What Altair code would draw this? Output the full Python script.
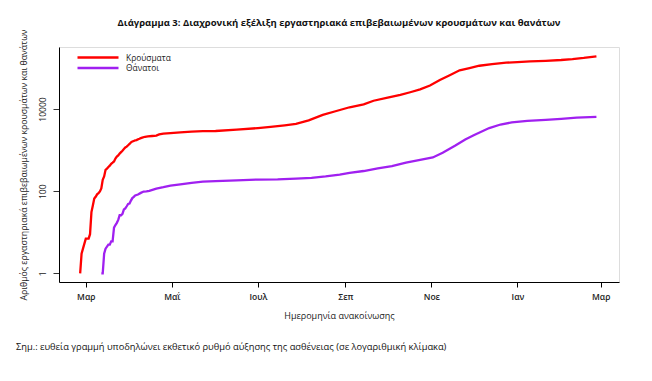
import json
import altair as alt
import pandas as pd

# ---------------- data ----------------
case_dates = [
    "2020-02-26", "2020-02-27", "2020-02-28", "2020-03-01", "2020-03-03", "2020-03-04",
    "2020-03-05", "2020-03-06", "2020-03-07", "2020-03-08", "2020-03-09", "2020-03-10",
    "2020-03-11", "2020-03-12", "2020-03-13", "2020-03-14", "2020-03-15", "2020-03-16",
    "2020-03-17", "2020-03-18", "2020-03-19", "2020-03-20", "2020-03-21", "2020-03-22",
    "2020-03-23", "2020-03-24", "2020-03-25", "2020-03-26", "2020-03-27", "2020-03-28",
    "2020-03-29", "2020-03-30", "2020-03-31", "2020-04-01", "2020-04-02", "2020-04-03",
    "2020-04-04", "2020-04-05", "2020-04-06", "2020-04-07", "2020-04-08", "2020-04-09",
    "2020-04-10", "2020-04-12", "2020-04-14", "2020-04-17", "2020-04-20", "2020-04-22",
    "2020-04-25", "2020-04-30", "2020-05-07", "2020-05-15", "2020-05-23", "2020-06-01",
    "2020-06-16", "2020-07-01", "2020-07-10", "2020-07-20", "2020-07-28", "2020-08-06",
    "2020-08-16", "2020-08-25", "2020-09-04", "2020-09-14", "2020-09-21", "2020-10-01",
    "2020-10-10", "2020-10-17", "2020-10-24", "2020-10-31", "2020-11-07", "2020-11-14",
    "2020-11-21", "2020-11-28", "2020-12-05", "2020-12-14", "2020-12-24", "2021-01-01",
    "2021-01-10", "2021-01-21", "2021-02-01", "2021-02-09", "2021-02-17", "2021-02-26",
]
case_values = [
    1, 3, 4, 7, 7, 9,
    31, 45, 66, 73, 84, 89,
    99, 117, 190, 228, 331, 352,
    387, 418, 464, 495, 530, 624,
    695, 743, 821, 892, 966, 1061,
    1156, 1212, 1314, 1415, 1544, 1613,
    1673, 1735, 1755, 1832, 1884, 1955,
    2011, 2114, 2170, 2207, 2245, 2401,
    2506, 2591, 2716, 2810, 2882, 2918,
    3148, 3432, 3672, 4007, 4350, 5300,
    7200, 8819, 11034, 13000, 15900, 18886,
    22078, 25600, 29992, 37196, 50712, 66637,
    87500, 99000, 113000, 123500, 134000, 139000,
    144000, 149000, 156000, 164000, 175000, 192000,
]

death_dates = [
    "2020-03-12", "2020-03-13", "2020-03-14", "2020-03-15", "2020-03-17", "2020-03-18",
    "2020-03-19", "2020-03-20", "2020-03-21", "2020-03-22", "2020-03-23", "2020-03-24",
    "2020-03-25", "2020-03-26", "2020-03-27", "2020-03-28", "2020-03-29", "2020-03-30",
    "2020-03-31", "2020-04-01", "2020-04-02", "2020-04-03", "2020-04-04", "2020-04-05",
    "2020-04-07", "2020-04-09", "2020-04-11", "2020-04-13", "2020-04-15", "2020-04-20",
    "2020-04-25", "2020-04-30", "2020-05-07", "2020-05-15", "2020-05-23", "2020-06-01",
    "2020-06-16", "2020-07-01", "2020-07-15", "2020-07-28", "2020-08-08", "2020-08-18",
    "2020-08-28", "2020-09-04", "2020-09-14", "2020-09-24", "2020-10-04", "2020-10-14",
    "2020-10-24", "2020-11-02", "2020-11-09", "2020-11-18", "2020-11-25", "2020-12-01",
    "2020-12-12", "2020-12-20", "2020-12-28", "2021-01-08", "2021-01-21", "2021-02-01",
    "2021-02-12", "2021-02-26",
]
death_values = [
    1, 1, 3, 4, 5, 5,
    6, 6, 13, 15, 17, 20,
    26, 26, 28, 36, 38, 43,
    49, 50, 59, 68, 73, 79,
    83, 91, 98, 99, 102, 116,
    125, 136, 147, 160, 171, 175,
    184, 192, 193, 203, 212, 230,
    254, 279, 310, 357, 409, 495,
    581, 661, 860, 1290, 1815, 2300,
    3440, 4200, 4710, 5150, 5460, 5750,
    6150, 6470,
]

series_names = ["Κρούσματα", "Θάνατοι"]
series_colors = ["#FF0000", "#A020F0"]
month_labels = ["Ιαν", "Φεβ", "Μαρ", "Απρ", "Μαΐ", "Ιουν",
                "Ιουλ", "Αυγ", "Σεπ", "Οκτ", "Νοε", "Δεκ"]
x_ticks = ["2020-03-01", "2020-05-01", "2020-07-01", "2020-09-01",
           "2020-11-01", "2021-01-01", "2021-03-01"]
y_ticks = [1, 100, 10000]

title_text = "Διάγραμμα 3: Διαχρονική εξέλιξη εργαστηριακά επιβεβαιωμένων κρουσμάτων και θανάτων"
x_title = "Ημερομηνία ανακοίνωσης"
y_title = "Αριθμός εργαστηριακά επιβεβαιωμένων κρουσμάτων και θανάτων"
note_text = "Σημ.: ευθεία γραμμή υποδηλώνει εκθετικό ρυθμό αύξησης της ασθένειας (σε λογαριθμική κλίμακα)"

# ---------------- build ----------------
FONT = "Open Sans"
W, H = 560, 235

df = pd.concat([
    pd.DataFrame({"date": case_dates, "value": case_values, "series": series_names[0]}),
    pd.DataFrame({"date": death_dates, "value": death_values, "series": series_names[1]}),
], ignore_index=True)


def dt(s):
    y, m, d = (int(p) for p in s.split("-"))
    return alt.DateTime(year=y, month=m, date=d, utc=True)


label_expr = json.dumps(month_labels, ensure_ascii=False) + "[utcmonth(datum.value)]"

lines = alt.Chart(df).mark_line(strokeWidth=2.3, clip=True).encode(
    x=alt.X(
        "date:T",
        scale=alt.Scale(type="utc", domain=[dt("2020-02-11"), dt("2021-03-14")], nice=False),
        axis=alt.Axis(
            values=[dt(s) for s in x_ticks], labelExpr=label_expr,
            title=x_title, grid=False, tickSize=5, tickColor="#000", domainColor="#000",
            labelFont=FONT, labelFontSize=8.5, labelFontWeight=600, labelColor="#222",
            labelPadding=5, labelFlush=False, labelOverlap=False,
            titleFont=FONT, titleFontSize=9, titleFontWeight="normal", titleColor="#222",
            titlePadding=11,
        ),
    ),
    y=alt.Y(
        "value:Q",
        scale=alt.Scale(type="log", domain=[0.617, 323000], nice=False),
        axis=alt.Axis(
            values=y_ticks, format="d", labelAngle=270, title=y_title, grid=False,
            tickSize=6, tickColor="#333", domainColor="#000",
            labelFont=FONT, labelFontSize=8.5, labelColor="#222", labelPadding=6,
            labelOverlap=False,
            titleFont=FONT, titleFontSize=8.7, titleFontWeight="normal", titleColor="#222",
            titlePadding=10,
        ),
    ),
    color=alt.Color("series:N", scale=alt.Scale(domain=series_names, range=series_colors), legend=None),
    order=alt.Order("date:T"),
)

layers = [lines]
for i, (name, col) in enumerate(zip(series_names, series_colors)):
    ly = 10.5 + 10.5 * i
    src = pd.DataFrame({"label": [name]})
    layers.append(
        alt.Chart(src).mark_rule(strokeWidth=2.3, color=col).encode(
            x=alt.value(18.5), x2=alt.value(59.5), y=alt.value(ly)
        )
    )
    layers.append(
        alt.Chart(src).mark_text(align="left", baseline="middle", font=FONT, fontSize=8.4, color="#222").encode(
            x=alt.value(67), y=alt.value(ly), text="label:N"
        )
    )

note_df = pd.DataFrame({"note": [note_text]})
layers.append(
    alt.Chart(note_df).mark_text(align="left", baseline="middle", font=FONT, fontSize=9.3, color="#111").encode(
        x=alt.value(-43), y=alt.value(300), text="note:N"
    )
)

chart = alt.layer(*layers).properties(
    width=W, height=H,
    title=alt.Title(title_text, font=FONT, fontSize=9.5, fontWeight="bold", color="#111",
                    anchor="middle", frame="group", offset=1),
    autosize=alt.AutoSizeParams(type="none"),
    padding={"left": 51, "top": 39, "right": 25, "bottom": 91},
).configure_view(stroke=None).configure(background="white")

chart.save("out.html", embed_options={"renderer": "svg", "actions": False})
